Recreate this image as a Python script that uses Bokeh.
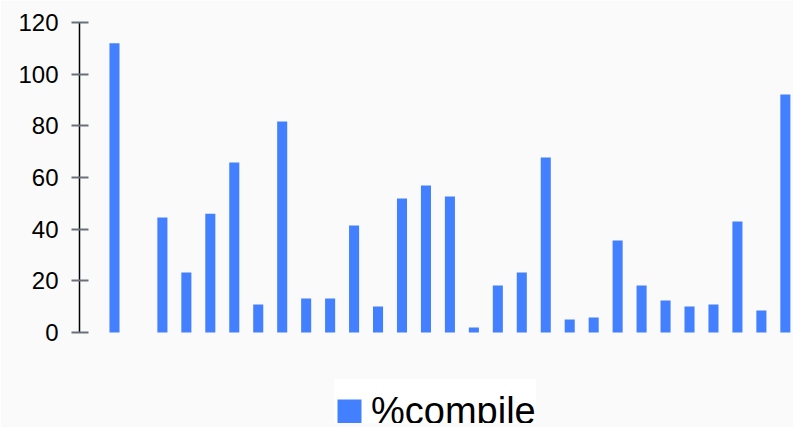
from bokeh.plotting import figure
from bokeh.models import FixedTicker, ColumnDataSource, Range1d
from bokeh.embed import file_html
from bokeh.resources import INLINE

# data
values = [112, 0, 44.5, 23.2, 46, 65.8, 10.8, 81.7, 13.2, 13.2, 41.4, 10.1, 51.9, 56.9,
          52.6, 1.9, 18.2, 23.2, 67.7, 5.0, 5.8, 35.6, 18.2, 12.4, 10.1, 10.8, 43.0, 8.5, 92.1]
positions = list(range(len(values)))
y_ticks = [0, 20, 40, 60, 80, 100, 120]
series_name = "%compile"

BAR = "#4380FF"
BG = "#FAFAFA"

src = ColumnDataSource(dict(x=positions, top=values))

p = figure(width=793, height=427, output_backend="svg", toolbar_location=None,
           x_range=Range1d(-1.46, 28.34), y_range=Range1d(-35.226, 120),
           min_border_left=79, min_border_right=0, min_border_top=22, min_border_bottom=4,
           background_fill_color=BG, border_fill_color=BG, outline_line_color=None)

p.vbar(x="x", top="top", width=0.42, source=src, fill_color=BAR, line_color=None,
       legend_label=series_name)

p.xaxis.visible = False
p.xgrid.visible = False
p.ygrid.visible = False

ya = p.yaxis[0]
ya.ticker = FixedTicker(ticks=y_ticks)
ya.bounds = (0, 120)
ya.minor_tick_line_color = None
ya.major_tick_in = 9
ya.major_tick_out = 8
ya.major_tick_line_color = "#6b7078"
ya.major_tick_line_width = 2
ya.axis_line_color = "black"
ya.axis_line_width = 1.5
ya.major_label_text_font = "Liberation Sans"
ya.major_label_text_font_size = "24px"
ya.major_label_text_color = "black"
ya.major_label_standoff = 13

lg = p.legend[0]
lg.location = (255, -10)
lg.title = " "
lg.title_text_font_size = "6px"
lg.title_standoff = 4
lg.background_fill_color = "white"
lg.background_fill_alpha = 1
lg.border_line_color = None
lg.glyph_width = 30
lg.glyph_height = 30
lg.label_height = 44
lg.label_text_font = "Liberation Sans"
lg.label_text_font_size = "38px"
lg.label_text_color = "black"
lg.label_standoff = 7
lg.padding = 10
lg.margin = 0

open("out.html", "w").write(file_html(p, INLINE))
